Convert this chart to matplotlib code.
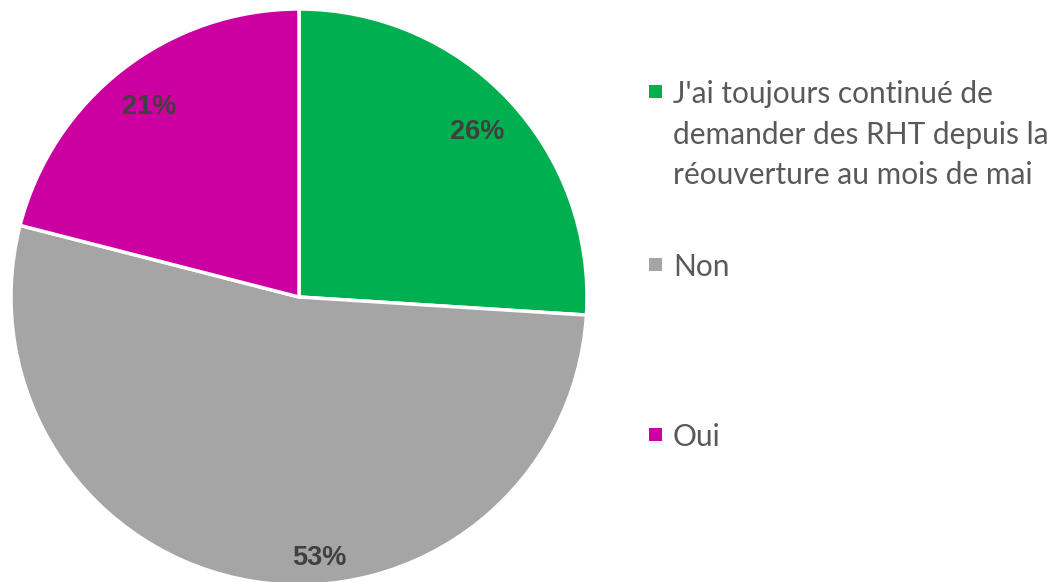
import matplotlib
matplotlib.use("Agg")
import matplotlib.pyplot as plt
from matplotlib.patches import Rectangle
from matplotlib.font_manager import FontProperties
import numpy as np

categories = ["J'ai toujours continué de\ndemander des RHT depuis la\nréouverture au mois de mai", "Non", "Oui"]
values = [26, 53, 21]
colors = ["#00B050", "#A5A5A5", "#CC00A0"]

plt.rcParams['font.family'] = ['Lato', 'DejaVu Sans']

W, H = 1055, 582
fig = plt.figure(figsize=(W/100, H/100), dpi=100)
cx, cy, r = 299, 297, 288
ax = fig.add_axes([(cx - r)/W, (H - cy - r)/H, 2*r/W, 2*r/H])
wedges, texts, autotexts = ax.pie(values, colors=colors, startangle=90, counterclock=False,
                                  autopct=lambda p: f"{p:.0f}%", pctdistance=0.85,
                                  wedgeprops=dict(edgecolor="white", linewidth=2.5))
lblfont = FontProperties(family='Liberation Sans', weight='bold', size=19.5)
for t in autotexts:
    t.set_fontproperties(lblfont)
    t.set_color("#404040")
    t.set_va('center_baseline')
ax.set_xlim(-1, 1); ax.set_ylim(-1, 1)
ax.set_aspect('equal')
ax.axis('off')
# 53% label placed near the bottom like the original
ang = np.deg2rad(-85.5)
autotexts[1].set_position((0.9*np.cos(ang), 0.9*np.sin(ang)))

# legend
ys = [92, 265, 435]
for lab, col, y in zip(categories, colors, ys):
    fig.patches.append(Rectangle(((649)/W, 1 - (y + 6)/H), 13/W, 13/H,
                                 transform=fig.transFigure, facecolor=col, edgecolor='none'))
    fig.text(673/W, 1 - (y - 12)/H, lab, va='top', ha='left', fontsize=21.5,
             color="#595959", linespacing=1.55)

fig.savefig("out.png", dpi=100)
